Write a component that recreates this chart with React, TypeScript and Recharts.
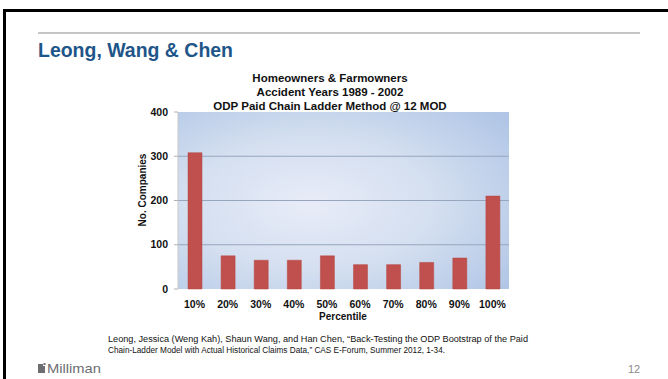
import React from "react";
import { BarChart, Bar, XAxis, YAxis, CartesianGrid } from "recharts";

const percentiles = ["10%", "20%", "30%", "40%", "50%", "60%", "70%", "80%", "90%", "100%"];
const companies = [308, 75, 65, 65, 75, 55, 55, 60, 70, 210];
const yTicks = [0, 100, 200, 300, 400];
const gridValues = [100, 200, 300];
const edgeTicks = [0, 1, 2, 3, 4, 5, 6, 7, 8, 9, 10];

const slideTitle = "Leong, Wang & Chen";
const chartTitle = ["Homeowners & Farmowners", "Accident Years 1989 - 2002", "ODP Paid Chain Ladder Method @ 12 MOD"];
const yLabel = "No. Companies";
const xLabel = "Percentile";
const footnote = [
  "Leong, Jessica (Weng Kah), Shaun Wang, and Han Chen, \u201cBack-Testing the ODP Bootstrap of the Paid",
  "Chain-Ladder Model with Actual Historical Claims Data,\u201d CAS E-Forum, Summer 2012, 1-34.",
];
const pageNumber = "12";
const brand = "Milliman";

const data = percentiles.map((p, i) => ({ p, n: companies[i] }));

const FONT = "'Liberation Sans', Arial, Helvetica, sans-serif";
const NARROW = "'Liberation Sans Narrow', 'Liberation Sans', Arial, sans-serif";

export default function App() {
  return (
    <div style={{ position: "fixed", left: 0, top: 0, width: 668, height: 379, background: "#fff", overflow: "hidden" }}>
      <div style={{ position: "absolute", left: 0, top: 0 }}>
        <BarChart
          width={668}
          height={379}
          data={data}
          margin={{ top: 112, right: 159, bottom: 60, left: 148 }}
        >
          <defs>
            <radialGradient id="plotBg" cx="40%" cy="52%" r="75%">
              <stop offset="0%" stopColor="#e8ecf8" />
              <stop offset="50%" stopColor="#d4dff0" />
              <stop offset="100%" stopColor="#b1c6e6" />
            </radialGradient>
          </defs>
          <CartesianGrid
            vertical={false}
            horizontalValues={gridValues}
            stroke="#96a6bf"
            fill="url(#plotBg)"
            fillOpacity={1}
          />
          <XAxis
            xAxisId="edges"
            type="number"
            domain={[0, 10]}
            ticks={edgeTicks}
            allowDataOverflow
            height={0}
            tick={false}
            tickSize={4}
            tickLine={{ stroke: "#b8b8b8" }}
            axisLine={{ stroke: "#c4c4c4" }}
          />
          <XAxis
            dataKey="p"
            height={30}
            tickLine={false}
            axisLine={false}
            tickMargin={6}
            tick={{ fill: "#111", fontSize: 10.5, fontWeight: 700, fontFamily: FONT }}
            interval={0}
          />
          <YAxis
            domain={[0, 400]}
            ticks={yTicks}
            width={30}
            tickSize={4}
            tickMargin={6}
            tickLine={{ stroke: "#b0b0b0" }}
            axisLine={{ stroke: "#c8c8c8" }}
            tick={{ fill: "#111", fontSize: 10.5, fontWeight: 700, fontFamily: FONT }}
          />
          <Bar dataKey="n" fill="#c0504d" stroke="#b4443f" strokeWidth={0.5} barSize={14} isAnimationActive={false} />
        </BarChart>
      </div>
      <svg width={668} height={379} style={{ position: "absolute", left: 0, top: 0, pointerEvents: "none" }}>
        {/* slide frame */}
        <rect x={3} y={9} width={665} height={3} fill="#000" />
        <rect x={3} y={9} width={3} height={370} fill="#000" />
        <rect x={38} y={32} width={602} height={2} fill="#c6c6c6" />
        <text x={38} y={57} fontFamily={NARROW} fontWeight={700} fontSize={19.5} fill="#1f5689" textLength={195} lengthAdjust="spacingAndGlyphs">
          {slideTitle}
        </text>
        {chartTitle.map((t, i) => (
          <text key={t} x={330} y={82 + i * 14} textAnchor="middle" fontFamily={FONT} fontWeight={700} fontSize={11.5} fill="#111">
            {t}
          </text>
        ))}
        <text x={0} y={0} transform="translate(146,190) rotate(-90)" textAnchor="middle" fontFamily={FONT} fontWeight={700} fontSize={10} fill="#111">
          {yLabel}
        </text>
        <text x={343} y={320} textAnchor="middle" fontFamily={FONT} fontWeight={700} fontSize={10} fill="#111">
          {xLabel}
        </text>
        {footnote.map((t, i) => (
          <text key={i} x={108} y={342 + i * 11} fontFamily={NARROW} fontSize={8.5} fill="#111" textLength={i === 0 ? 420 : 337} lengthAdjust="spacingAndGlyphs">
            {t}
          </text>
        ))}
        {/* brand mark */}
        <path d="M38 364 H43 V366 H45 V373 H38 Z" fill="#6d6e71" />
        <rect x={43.5} y={363} width={2} height={2} fill="#6d6e71" />
        <text x={47} y={373} fontFamily={FONT} fontSize={13} fill="#6d6e71" textLength={54} lengthAdjust="spacingAndGlyphs">
          {brand}
        </text>
        <text x={628} y={373} fontFamily={FONT} fontSize={11} fill="#8a8a8a">
          {pageNumber}
        </text>
      </svg>
    </div>
  );
}
